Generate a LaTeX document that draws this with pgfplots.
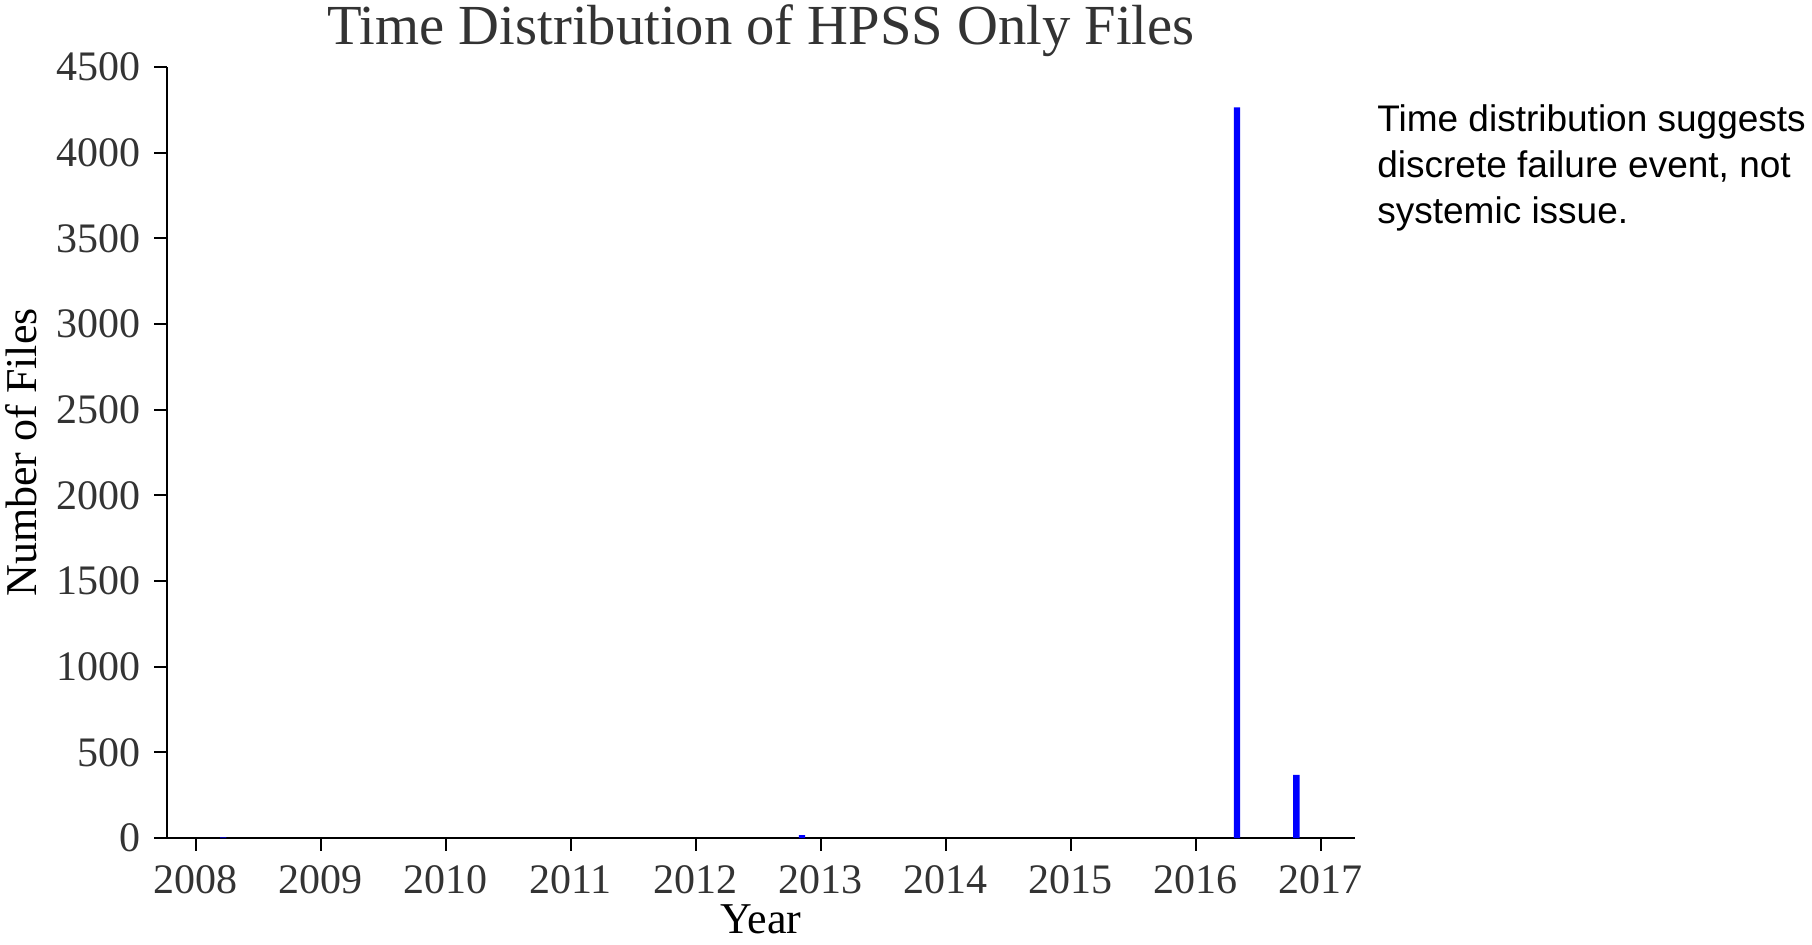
\documentclass[border=0pt]{standalone}
\usepackage{fontspec}
\setmainfont{Liberation Serif}
\newfontfamily\annotfont{Liberation Sans}
\usepackage{pgfplots}
\pgfplotsset{compat=1.18}
\definecolor{tickgray}{HTML}{333333}
\begin{document}
\begin{tikzpicture}
\begin{axis}[
  scale only axis,
  width=594pt, height=385.5pt,
  xmin=2007.77, xmax=2017.274,
  ymin=0, ymax=4500,
  axis x line*=bottom, axis y line*=left,
  tick align=outside,
  major tick length=6.3pt,
  xtick={2008,2009,2010,2011,2012,2013,2014,2015,2016,2017},
  ytick={0,500,1000,1500,2000,2500,3000,3500,4000,4500},
  /pgf/number format/1000 sep={},
  /pgf/number format/assume math mode=true,
  ticklabel style={font=\fontsize{21}{25}\selectfont, text=tickgray},
  xticklabel style={yshift=-4pt},
  yticklabel style={xshift=-3.5pt},
  tick style={black, line width=0.9pt},
  axis line style={black, line width=0.9pt},
  clip=false,
  ybar, bar width=3.2pt,
]
\addplot[fill=blue, draw=none] coordinates {
  (2008.22,3)
  (2012.85,17)
  (2016.33,4265)
  (2016.805,368)
};
\node[anchor=base, font=\fontsize{28.3}{32}\selectfont, text=tickgray] at (rel axis cs:0.5,1.0298) {Time Distribution of HPSS Only Files};
\node[anchor=base, inner sep=0pt, font=\fontsize{22}{26}\selectfont] at (rel axis cs:0.5,-0.1235) {Year};
\node[anchor=base, rotate=90, font=\fontsize{22}{26}\selectfont] at (rel axis cs:-0.11,0.5) {Number of Files};
\node[anchor=base west, inner sep=0pt, align=left, font=\annotfont\fontsize{18.5}{23}\selectfont] at (rel axis cs:1.0185,0.797) {Time distribution suggests\\discrete failure event, not\\systemic issue.};
\end{axis}
\pgfresetboundingbox
\path (-83.5pt,-53pt) rectangle (822.5pt,419pt);
\end{tikzpicture}
\end{document}
